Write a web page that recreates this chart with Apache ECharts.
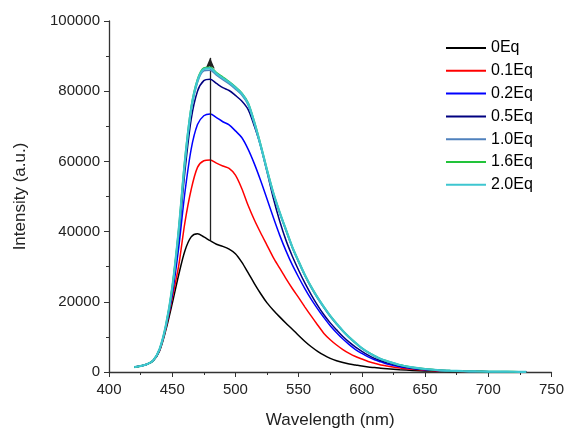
<!DOCTYPE html>
<html lang="en">
  <head>
    <meta charset="UTF-8" />
    <title>Emission spectra</title>
    <script src="https://cdn.jsdelivr.net/npm/echarts@6/dist/echarts.min.js"></script>
    <style>
      html, body { margin: 0; padding: 0; background: #fff; }
      #app { width: 567px; height: 434px; }
    </style>
  </head>
  <body>
    <div id="app"></div>
    <script>
      // wavelength (nm)
      const wavelengths = [
        420, 425, 430, 435, 440, 445, 450, 455, 460, 465, 470, 475, 480, 485, 490, 495, 500,
        505, 510, 515, 520, 525, 530, 535, 540, 545, 550, 555, 560, 565, 570, 575, 580, 585,
        590, 595, 600, 605, 610, 615, 620, 630, 640, 650, 660, 670, 680, 690, 700, 710, 720, 730
      ];

      const eq0 = [
        1400, 1700, 2200, 3200, 6000, 12000, 19500, 27500, 34500, 38500, 39400, 38500, 37400, 36400, 35800, 35000, 33700,
        31300, 28300, 25200, 22300, 19700, 17600, 15700, 13900, 12200, 10400, 8700, 7200, 5900, 4800, 3900, 3200, 2700,
        2300, 2000, 1700, 1450, 1250, 1050, 900, 650, 460, 320, 230, 170, 130, 100, 80, 65, 55, 45
      ];
      const eq01 = [
        1400, 1700, 2200, 3300, 6200, 12500, 21000, 30000, 42500, 52000, 58300, 60200, 60400, 59500, 58700, 58000, 56100,
        52300, 47500, 43300, 39600, 36100, 32600, 29600, 26600, 23800, 21200, 18500, 15900, 13400, 11000, 9200, 7700, 6400,
        5300, 4400, 3700, 3000, 2500, 2000, 1700, 1150, 750, 480, 320, 220, 150, 100, 80, 60, 50, 40
      ];
      const eq02 = [
        1400, 1700, 2200, 3300, 6300, 12800, 22000, 35000, 51000, 63500, 70500, 73000, 73500, 72500, 71300, 70400, 68700,
        66800, 63500, 59300, 54500, 49300, 44000, 39000, 34500, 30500, 27000, 23700, 20700, 18000, 15500, 13200, 11200, 9400,
        7800, 6400, 5300, 4300, 3500, 2900, 2300, 1500, 1000, 650, 420, 280, 190, 130, 90, 70, 55, 45
      ];
      const eq05 = [
        1400, 1700, 2200, 3300, 6400, 13000, 23000, 38000, 57000, 72000, 80000, 83000, 83400, 82200, 81000, 80200, 78800,
        77200, 74800, 70000, 64300, 57000, 49500, 43000, 37500, 33000, 29000, 25300, 22000, 19000, 16300, 14000, 12000, 10100,
        8500, 7100, 5900, 4800, 3900, 3200, 2600, 1700, 1100, 720, 470, 310, 210, 140, 100, 75, 60, 50
      ];
      const eq10 = [
        1400, 1700, 2200, 3300, 6500, 13200, 23900, 39800, 59500, 74500, 82500, 85800, 86000, 84600, 83300, 82100, 80600,
        78900, 76100, 70700, 64200, 57300, 50800, 45300, 40300, 35400, 31300, 27400, 24000, 21000, 18300, 15800, 13600, 11600,
        9800, 8200, 6700, 5500, 4500, 3700, 3000, 2000, 1300, 840, 540, 360, 240, 170, 120, 90, 70, 55
      ];
      const eq16 = [
        1400, 1700, 2200, 3300, 6500, 13300, 24000, 40000, 60200, 75300, 83300, 86600, 86800, 85300, 84000, 82700, 81200,
        79500, 76700, 71200, 64700, 57600, 51000, 45500, 40500, 35600, 31500, 27600, 24200, 21200, 18500, 16000, 13800, 11700,
        9900, 8300, 6800, 5600, 4600, 3700, 3100, 2000, 1300, 850, 550, 370, 250, 170, 120, 90, 70, 55
      ];
      const eq20 = [
        1400, 1700, 2200, 3300, 6500, 13300, 24000, 40000, 60000, 75000, 83000, 86300, 86500, 85000, 83700, 82500, 81000,
        79300, 76500, 71000, 64500, 57500, 51000, 45500, 40500, 35600, 31500, 27600, 24200, 21200, 18500, 16000, 13800, 11700,
        9900, 8300, 6800, 5600, 4600, 3700, 3100, 2000, 1300, 850, 550, 370, 250, 170, 120, 90, 70, 55
      ];

      // arrow marking the peak at 480 nm
      const arrowX = 480;
      const arrowFrom = 37600;
      const arrowTo = 89500;

      const seriesNames = ["0Eq", "0.1Eq", "0.2Eq", "0.5Eq", "1.0Eq", "1.6Eq", "2.0Eq"];
      const seriesValues = [eq0, eq01, eq02, eq05, eq10, eq16, eq20];
      const colors = ["#000000", "#ff0000", "#0000ff", "#000080", "#4f81bd", "#22c33a", "#3ec6d0"];
      const widths = [1.5, 1.5, 1.5, 1.5, 1.5, 1.8, 2.2];

      const font = "Liberation Sans, Arial, sans-serif";

      const series = seriesNames.map((name, i) => {
        const s = {
          name: name,
          type: "line",
          data: wavelengths.map((w, j) => [w, seriesValues[i][j]]),
          showSymbol: false,
          symbol: "none",
          smooth: 0.3,
          lineStyle: { color: colors[i], width: widths[i] },
          itemStyle: { color: colors[i] },
          z: 2 + i,
        };
        if (i === 0) {
          s.markLine = {
            silent: true,
            symbol: ["none", "arrow"],
            symbolSize: [7, 11],
            label: { show: false },
            lineStyle: { color: "#222", width: 1.3, type: "solid" },
            data: [[{ coord: [arrowX, arrowFrom] }, { coord: [arrowX, arrowTo] }]],
          };
        }
        return s;
      });

      const chart = echarts.init(document.getElementById("app"));

      chart.setOption({
        animation: false,
        textStyle: { fontFamily: font },
        grid: { left: 109, right: 14, top: 21, bottom: 57 },
        legend: {
          orient: "vertical",
          left: 441,
          top: 35,
          icon: "rect",
          itemWidth: 40,
          itemHeight: 2,
          itemGap: 6.8,
          textStyle: { fontSize: 16, color: "#000", fontFamily: font, lineHeight: 16 },
          data: seriesNames,
        },
        xAxis: {
          type: "value",
          min: 400,
          max: 750,
          interval: 50,
          name: "Wavelength (nm)",
          nameLocation: "middle",
          nameGap: 40,
          nameTextStyle: { fontSize: 17, color: "#222" },
          axisLine: { lineStyle: { color: "#333", width: 1.3 } },
          axisTick: { length: 5, lineStyle: { color: "#333" } },
          minorTick: { show: true, splitNumber: 2, length: 3, lineStyle: { color: "#333" } },
          axisLabel: { fontSize: 15, color: "#222", margin: 10, formatter: (v) => String(v) },
          splitLine: { show: false },
        },
        yAxis: {
          type: "value",
          min: 0,
          max: 100000,
          interval: 20000,
          name: "Intensity (a.u.)",
          nameLocation: "middle",
          nameGap: 80,
          nameTextStyle: { fontSize: 17, color: "#222" },
          axisLine: { show: true, lineStyle: { color: "#333", width: 1.3 } },
          axisTick: { show: true, length: 5, lineStyle: { color: "#333" } },
          minorTick: { show: true, splitNumber: 2, length: 3, lineStyle: { color: "#333" } },
          axisLabel: { fontSize: 15, color: "#222", margin: 9, formatter: (v) => String(v) },
          splitLine: { show: false },
        },
        series: series,
      });
    </script>
  </body>
</html>
